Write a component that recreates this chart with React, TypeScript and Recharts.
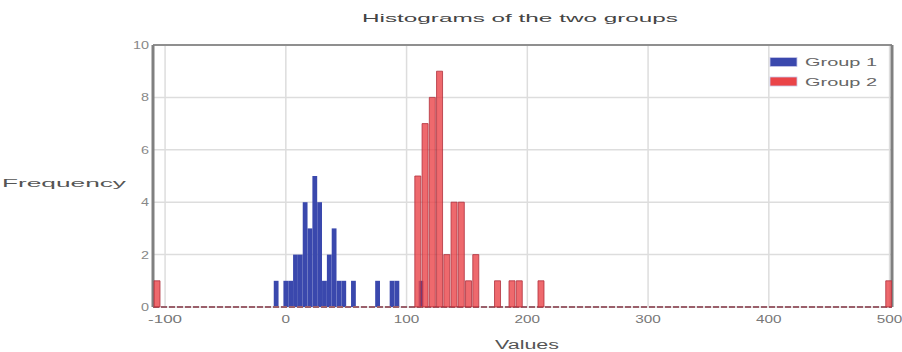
import React from 'react';
import { BarChart, Bar, XAxis, YAxis, CartesianGrid, ReferenceLine } from 'recharts';

// ---- data ----
const group1Bins = [-8, 0, 4, 8, 12, 16, 20, 24, 28, 32, 36, 40, 44, 48, 56, 76, 88, 92, 112];
const group1Counts = [1, 1, 1, 2, 2, 4, 3, 5, 4, 1, 2, 3, 1, 1, 1, 1, 1, 1, 1];
const group2Bins = [-107, 109, 115, 121, 127, 133, 139, 145, 151, 157, 175, 187, 193, 211, 499];
const group2Counts = [1, 5, 7, 8, 9, 2, 4, 4, 1, 2, 1, 1, 1, 1, 1];
const xTicks = [-100, 0, 100, 200, 300, 400, 500];
const yTicks = [0, 2, 4, 6, 8, 10];
const seriesNames = ['Group 1', 'Group 2'];
const seriesColors = ['#3a48ad', '#ea4448'];
const titleText = 'Histograms of the two groups';
const xLabelText = 'Values';
const yLabelText = 'Frequency';

const data1 = group1Bins.map((x, i) => ({ x, count: group1Counts[i] }));
const data2 = group2Bins.map((x, i) => ({ x, count: group2Counts[i] }));

const W = 902;
const H = 352;
const X_DOMAIN: [number, number] = [-110, 502];
const FONT = '"Liberation Sans", Arial, sans-serif';

function XTick(props: any) {
  const { x, y, payload } = props;
  const s = String(payload.value);
  return (
    <text
      x={x}
      y={y + 10}
      textAnchor="middle"
      fontSize={10}
      fill="#777"
      fontFamily={FONT}
      textLength={s.length * 8.5}
      lengthAdjust="spacingAndGlyphs"
    >
      {s}
    </text>
  );
}

function YTick(props: any) {
  const { x, y, payload } = props;
  const s = String(payload.value);
  return (
    <text
      x={x}
      y={y + 4}
      textAnchor="end"
      fontSize={10}
      fill="#888"
      fontFamily={FONT}
      textLength={s.length * 8}
      lengthAdjust="spacingAndGlyphs"
    >
      {s}
    </text>
  );
}

export default function App() {
  return (
    <div style={{ position: 'absolute', left: 0, top: 0, width: W, height: H, background: '#fff' }}>
      <div style={{ position: 'absolute', left: 0, top: 0 }}>
        <BarChart width={W} height={H} data={data1} margin={{ top: 45, right: 10, bottom: 0, left: 0 }}>
          <CartesianGrid stroke="#dddddd" strokeWidth={1.5} />
          <XAxis
            dataKey="x"
            type="number"
            domain={X_DOMAIN}
            ticks={xTicks}
            interval={0}
            allowDataOverflow
            height={45}
            tickLine={false}
            tickSize={4}
            tickMargin={2}
            axisLine={{ stroke: '#9a5f6a', strokeWidth: 2, strokeDasharray: '6 2' }}
            tick={<XTick />}
          />
          <YAxis
            domain={[0, 10]}
            ticks={yTicks}
            interval={0}
            width={153}
            tickLine={false}
            tickSize={1}
            tickMargin={3}
            axisLine={{ stroke: '#808080', strokeWidth: 3 }}
            tick={<YTick />}
          />
          <ReferenceLine y={10} stroke="#8f8f8f" strokeWidth={2} ifOverflow="visible" />
          <ReferenceLine x={502} stroke="#808080" strokeWidth={3} ifOverflow="visible" />
          <Bar dataKey="count" fill={seriesColors[0]} barSize={4.8} isAnimationActive={false} />
        </BarChart>
      </div>
      <div style={{ position: 'absolute', left: 0, top: 0 }}>
        <BarChart width={W} height={H} data={data2} margin={{ top: 45, right: 10, bottom: 45, left: 153 }}>
          <XAxis dataKey="x" type="number" domain={X_DOMAIN} allowDataOverflow hide />
          <YAxis domain={[0, 10]} hide />
          <Bar
            dataKey="count"
            fill={seriesColors[1]}
            fillOpacity={0.8}
            stroke="#b0303c"
            strokeWidth={0.8}
            barSize={6}
            isAnimationActive={false}
          />
        </BarChart>
      </div>
      <svg
        width={W}
        height={H}
        style={{ position: 'absolute', left: 0, top: 0, pointerEvents: 'none' }}
      >
        <text
          x={520}
          y={22}
          textAnchor="middle"
          fontSize={11.5}
          fill="#444"
          fontFamily={FONT}
          textLength={316}
          lengthAdjust="spacingAndGlyphs"
        >
          {titleText}
        </text>
        <text
          x={2}
          y={187}
          fontSize={11.5}
          fill="#555"
          fontFamily={FONT}
          textLength={124}
          lengthAdjust="spacingAndGlyphs"
        >
          {yLabelText}
        </text>
        <text
          x={527}
          y={349}
          textAnchor="middle"
          fontSize={12}
          fill="#555"
          fontFamily={FONT}
          textLength={64}
          lengthAdjust="spacingAndGlyphs"
        >
          {xLabelText}
        </text>
        {seriesNames.map((name, i) => (
          <g key={name}>
            <rect x={770} y={57.5 + i * 19.5} width={27} height={9} fill={seriesColors[i]} stroke="#c8c8e8" strokeWidth={0.8} />
            <text
              x={805}
              y={66 + i * 19.5}
              fontSize={10}
              fill="#666"
              fontFamily={FONT}
              textLength={72}
              lengthAdjust="spacingAndGlyphs"
            >
              {name}
            </text>
          </g>
        ))}
      </svg>
    </div>
  );
}
